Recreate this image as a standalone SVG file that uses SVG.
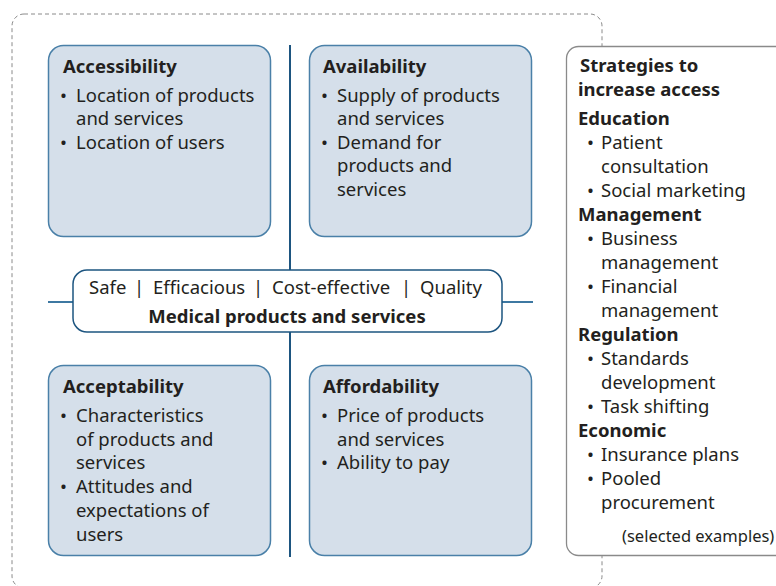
<svg xmlns="http://www.w3.org/2000/svg" width="776" height="586" viewBox="0 0 776 586">
<defs>
<style>
text{font-family:"Noto Sans","Open Sans","Liberation Sans",sans-serif;fill:#231f20;font-size:18.5px}
.b{font-weight:bold}
.s{font-size:16.5px}
.q{fill:#d5dfea;stroke:#4a80a8;stroke-width:1.5}
.ln{stroke:#1d5580;stroke-width:2;fill:none}
</style>
</defs>
<rect x="12" y="14" width="590" height="574" rx="12" fill="none" stroke="#8a8a8a" stroke-width="1" stroke-dasharray="4 3"/>
<g id="connectors">
<line class="ln" x1="290" y1="45" x2="290" y2="557"/>
<line x1="48" y1="302" x2="533" y2="302" stroke="#3d78a2" stroke-width="2"/>
</g>
<g id="accessibility">
<rect class="q" x="48.5" y="45.5" width="222" height="191" rx="15"/>
<text class="b" x="63" y="73">Accessibility</text>
<text x="60" y="102">•</text><text x="76" y="102">Location of products</text>
<text x="76" y="125">and services</text>
<text x="60" y="149">•</text><text x="76" y="149">Location of users</text>
</g>
<g id="availability">
<rect class="q" x="309.5" y="45.5" width="222" height="191" rx="15"/>
<text class="b" x="323" y="73">Availability</text>
<text x="321" y="102">•</text><text x="337" y="102">Supply of products</text>
<text x="337" y="125">and services</text>
<text x="321" y="149">•</text><text x="337" y="149">Demand for</text>
<text x="337" y="172">products and</text>
<text x="337" y="196">services</text>
</g>
<g id="acceptability">
<rect class="q" x="48.5" y="365.5" width="222" height="190" rx="15"/>
<text class="b" x="63" y="393">Acceptability</text>
<text x="60" y="422">•</text><text x="76" y="422">Characteristics</text>
<text x="76" y="446">of products and</text>
<text x="76" y="469">services</text>
<text x="60" y="493">•</text><text x="76" y="493">Attitudes and</text>
<text x="76" y="517">expectations of</text>
<text x="76" y="541">users</text>
</g>
<g id="affordability">
<rect class="q" x="309.5" y="365.5" width="222" height="190" rx="15"/>
<text class="b" x="323" y="393">Affordability</text>
<text x="321" y="422">•</text><text x="337" y="422">Price of products</text>
<text x="337" y="446">and services</text>
<text x="321" y="469">•</text><text x="337" y="469">Ability to pay</text>
</g>
<g id="medical">
<rect x="73" y="270" width="429" height="62" rx="14" fill="#fff" stroke="#1d5580" stroke-width="1.5"/>
<text x="89" y="294">Safe</text>
<text x="139" y="294" text-anchor="middle">|</text>
<text x="153" y="294">Efficacious</text>
<text x="258" y="294" text-anchor="middle">|</text>
<text x="272" y="294">Cost-effective</text>
<text x="406" y="294" text-anchor="middle">|</text>
<text x="420" y="294">Quality</text>
<text class="b" x="287" y="323" text-anchor="middle">Medical products and services</text>
</g>
<g id="strategies">
<rect x="566.5" y="46.5" width="225" height="509" rx="12" fill="#fff" stroke="#8a8a8a" stroke-width="1.3"/>
<text class="b" x="580" y="72">Strategies to</text>
<text class="b" x="578" y="96">increase access</text>
<text class="b" x="578" y="125">Education</text>
<text x="587" y="149">•</text><text x="601" y="149">Patient</text>
<text x="601" y="173">consultation</text>
<text x="587" y="197">•</text><text x="601" y="197">Social marketing</text>
<text class="b" x="578" y="221">Management</text>
<text x="587" y="245">•</text><text x="601" y="245">Business</text>
<text x="601" y="269">management</text>
<text x="587" y="293">•</text><text x="601" y="293">Financial</text>
<text x="601" y="317">management</text>
<text class="b" x="578" y="341">Regulation</text>
<text x="587" y="365">•</text><text x="601" y="365">Standards</text>
<text x="601" y="389">development</text>
<text x="587" y="413">•</text><text x="601" y="413">Task shifting</text>
<text class="b" x="578" y="437">Economic</text>
<text x="587" y="461">•</text><text x="601" y="461">Insurance plans</text>
<text x="587" y="485">•</text><text x="601" y="485">Pooled</text>
<text x="601" y="509">procurement</text>
<text class="s" x="622" y="542">(selected examples)</text>
</g>
</svg>
